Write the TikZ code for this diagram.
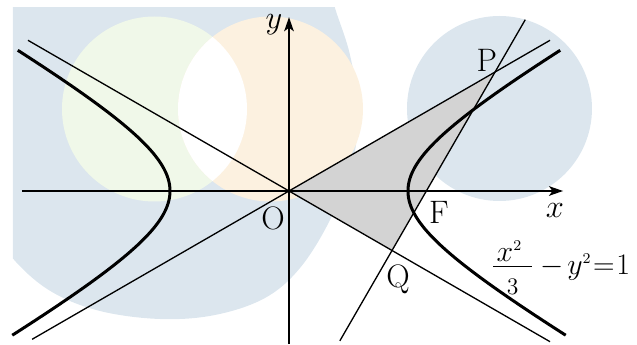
\documentclass[tikz,border=0pt]{standalone}
\usepackage{amsmath}
\usepackage{fix-cm}
\usetikzlibrary{arrows.meta}
\definecolor{wmblue}{RGB}{220,230,238}
\definecolor{wmgreen}{RGB}{240,248,233}
\definecolor{wmorange}{RGB}{252,241,224}
\definecolor{tri}{RGB}{211,211,211}
\begin{document}
\begin{tikzpicture}[x=1.374cm,y=1.374cm,
  thinln/.style={line width=0.75pt},
  curve/.style={line width=1.7pt},
  axisln/.style={line width=0.75pt,-{Stealth[length=8pt,width=5.5pt,inset=2pt]}},
  lbl/.style={font=\fontsize{18.5}{22}\selectfont, inner sep=0pt},
  eqn/.style={font=\fontsize{17}{20}\selectfont, inner sep=0pt}]
% ---- background (pixel coordinates) ----
\begin{scope}[x=0.02cm,y=-0.02cm,shift={(-289,-191)}]
  \useasboundingbox (0,0) rectangle (637,344);
  \begin{scope}
    \clip (13,8) rectangle (637,344);
    \fill[wmblue] (-20,-20) -- (328,-20) -- plot[smooth, tension=0.6] coordinates {(328,-20) (335,8) (350,55) (358,110) (352,165) (330,220) (300,268) (265,298) (215,315) (160,319) (100,311) (52,292) (16,262) (-10,225)} -- (-20,225) -- cycle;
    \fill[wmblue] (499.5,108.5) circle (92.5);
    \fill[wmgreen] (154.5,109) circle (92.5);
    \fill[wmorange] (270.5,109) circle (92.5);
    \begin{scope}
      \clip (154.5,109) circle (92.5);
      \fill[white] (270.5,109) circle (92.5);
    \end{scope}
  \end{scope}
\end{scope}
% ---- geometry ----
\coordinate (O) at (0,0);
\coordinate (F) at (2,0);
\coordinate (P) at (3,{sqrt(3)});
\coordinate (Q) at (1.5,{-sqrt(3)/2});
\coordinate (A1) at (-3.74,{-3.74/sqrt(3)});
\coordinate (A2) at (3.80,{3.80/sqrt(3)});
\coordinate (B1) at (-3.80,{3.80/sqrt(3)});
\coordinate (B2) at (3.80,{-3.80/sqrt(3)});
\coordinate (L1) at (0.74,{sqrt(3)*(0.74-2)});
\coordinate (L2) at (3.44,{sqrt(3)*(3.44-2)});
\coordinate (xs) at (-3.89,0);
\coordinate (xe) at (3.99,0);
\coordinate (ys) at (0,-2.23);
\coordinate (ye) at (0,2.53);
\fill[tri] (O) -- (P) -- (Q) -- cycle;
\draw[thinln] (A1) -- (A2);
\draw[thinln] (B1) -- (B2);
\draw[thinln] (L1) -- (L2);
\draw[axisln] (xs) -- (xe);
\draw[axisln] (ys) -- (ye);
\draw[curve] plot[domain=-2.1:2.05, samples=90, smooth, variable=\t] ({sqrt(3*(1+\t*\t))},\t);
\draw[curve] plot[domain=-2.1:2.05, samples=90, smooth, variable=\t] ({-sqrt(3*(1+\t*\t))},\t);
% ---- labels ----
\node[lbl] (ylab) at (-0.22,2.416) {$y$};
\node[lbl] (xlab) at (3.87,-0.29) {$x$};
\node[lbl] (Olab) at (-0.233,-0.393) {O};
\node[lbl] (Flab) at (2.183,-0.306) {F};
\node[lbl] (Plab) at (2.882,1.907) {P};
\node[lbl] (Qlab) at (1.587,-1.288) {Q};
\node[eqn, anchor=west] (eq) at (2.94,-1.12) {$\dfrac{\mkern2mu\raisebox{-4pt}{$x^{\scriptscriptstyle 2}$}\mkern6mu}{\mbox{\fontsize{13.5}{14}\selectfont 3}}\mkern4mu{-}\mkern2mu y^{\scriptscriptstyle 2}\mkern1mu{=}\mkern1mu 1$};
\end{tikzpicture}
\end{document}
